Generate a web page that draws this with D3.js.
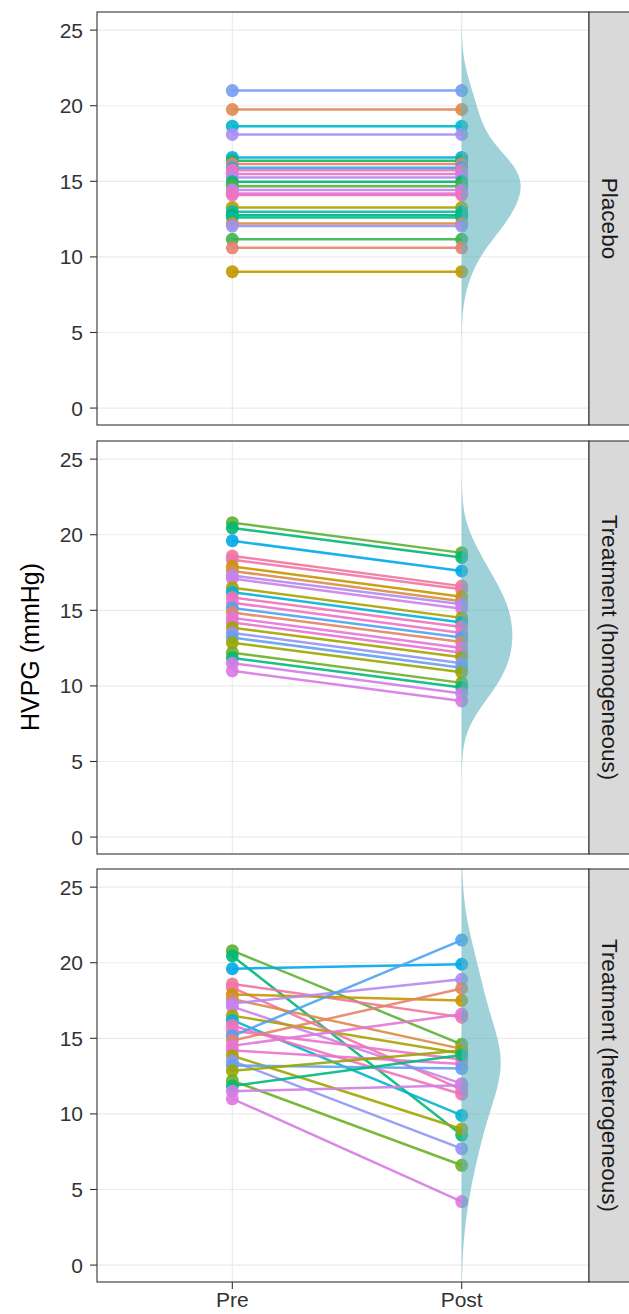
<!DOCTYPE html>
<html><head><meta charset="utf-8">
<script src="https://cdn.jsdelivr.net/npm/d3@7"></script>
<style>body{margin:0;background:#fff}</style>
</head><body>
<svg id="chart" width="629" height="1314"></svg>
<script>
// ---------- data ----------
const facets = ["Placebo", "Treatment (homogeneous)", "Treatment (heterogeneous)"];
const timepoints = ["Pre", "Post"];
const yTicks = [0, 5, 10, 15, 20, 25];
const nSubjects = 75;

const placeboSubject = [51, 5, 41, 55, 46, 26, 1, 48, 69, 64, 57, 28, 24, 58, 62, 67, 14, 38, 27, 33, 7, 54, 25, 2, 11];
const placeboPre  = [21.0, 19.75, 18.65, 18.1, 16.58, 16.36, 16.14, 15.9, 15.74, 15.48, 15.26, 14.97, 14.68, 14.42, 14.2, 14.09, 13.27, 12.98, 12.76, 12.61, 12.21, 12.04, 11.16, 10.6, 9.02];
const placeboPost = [21.0, 19.75, 18.65, 18.1, 16.58, 16.36, 16.14, 15.9, 15.74, 15.48, 15.26, 14.97, 14.68, 14.42, 14.2, 14.09, 13.27, 12.98, 12.76, 12.61, 12.21, 12.04, 11.16, 10.6, 9.02];

const treatSubject = [23, 29, 47, 72, 70, 10, 6, 56, 59, 15, 42, 68, 66, 49, 3, 63, 65, 16, 53, 50, 17, 22, 30, 60, 61];
const homoPre  = [20.8, 20.45, 19.6, 18.6, 18.35, 17.9, 17.6, 17.3, 17.1, 16.5, 16.2, 15.85, 15.5, 15.15, 14.85, 14.5, 14.2, 13.85, 13.5, 13.2, 12.85, 12.2, 11.85, 11.5, 11.0];
const homoPost = [18.8, 18.5, 17.6, 16.6, 16.4, 15.9, 15.6, 15.4, 15.1, 14.5, 14.2, 13.9, 13.5, 13.2, 12.9, 12.5, 12.2, 11.9, 11.5, 11.2, 10.9, 10.2, 9.9, 9.5, 9.0];
const heteroPre  = [20.8, 20.45, 19.6, 18.6, 18.35, 17.9, 17.6, 17.3, 17.1, 16.5, 16.2, 15.85, 15.5, 15.15, 14.85, 14.5, 14.2, 13.85, 13.5, 13.2, 12.85, 12.2, 11.85, 11.5, 11.0];
const heteroPost = [14.6, 8.6, 19.9, 16.4, 11.6, 17.5, 14.3, 18.9, 12.0, 14.0, 9.9, 11.3, 13.6, 21.5, 18.3, 16.6, 13.3, 9.0, 7.7, 13.0, 14.2, 6.6, 13.9, 11.9, 4.2];

// ---------- helpers ----------
// R-style hcl (polar CIELUV) -> sRGB hex
function hclR(h, c, l) {
  const Xn = 95.047, Yn = 100.0, Zn = 108.883;
  const un = 4 * Xn / (Xn + 15 * Yn + 3 * Zn), vn = 9 * Yn / (Xn + 15 * Yn + 3 * Zn);
  const hr = h * Math.PI / 180, u = c * Math.cos(hr), v = c * Math.sin(hr);
  const Y = l > 8 ? Yn * Math.pow((l + 16) / 116, 3) : Yn * l / 903.3;
  const up = u / (13 * l) + un, vp = v / (13 * l) + vn;
  const X = Y * 9 * up / (4 * vp), Z = Y * (12 - 3 * up - 20 * vp) / (4 * vp);
  const x = X / 100, y = Y / 100, z = Z / 100;
  let r = 3.240479 * x - 1.537150 * y - 0.498535 * z;
  let g = -0.969256 * x + 1.875992 * y + 0.041556 * z;
  let b = 0.055648 * x - 0.204043 * y + 1.057311 * z;
  const gam = t => { t = t <= 0.0031308 ? 12.92 * t : 1.055 * Math.pow(t, 1 / 2.4) - 0.055; return Math.max(0, Math.min(255, Math.round(t * 255))); };
  return d3.rgb(gam(r), gam(g), gam(b)).formatHex();
}
const subjectIds = d3.range(1, nSubjects + 1);
const color = d3.scaleOrdinal(subjectIds, subjectIds.map((d, i) => hclR(15 + 360 * i / nSubjects, 80, 65)));

function kde(values, adjust) {
  const s = values.slice().sort(d3.ascending);
  const n = s.length;
  const sd = d3.deviation(s);
  const iqr = d3.quantileSorted(s, 0.75) - d3.quantileSorted(s, 0.25);
  const bw = adjust * 0.9 * Math.min(sd, iqr / 1.34) * Math.pow(n, -0.2);
  const lo = s[0] - 3 * bw, hi = s[n - 1] + 3 * bw;
  const pts = d3.range(512).map(i => lo + (hi - lo) * i / 511);
  return pts.map(t => [t, d3.mean(s, v => Math.exp(-0.5 * ((t - v) / bw) ** 2)) / (bw * Math.sqrt(2 * Math.PI))]);
}

const panelsData = [
  { label: facets[0], subj: placeboSubject, pre: placeboPre, post: placeboPost },
  { label: facets[1], subj: treatSubject, pre: homoPre, post: homoPost },
  { label: facets[2], subj: treatSubject, pre: heteroPre, post: heteroPost }
];
panelsData.forEach(p => p.dens = kde(p.post, 1.3));
const maxDens = d3.max(panelsData, p => d3.max(p.dens, d => d[1]));

// ---------- layout ----------
const svg = d3.select("#chart");
const font = "'Liberation Sans', Arial, Helvetica, sans-serif";
const L = 97, R = 589, panelH = 413, tops = [12, 441, 869];
const stripW = 42;
const x = d3.scaleLinear().domain([0.41, 2.555]).range([L, R]);
const xPos = d3.scalePoint().domain(timepoints).range([x(1), x(2)]);
const violinMax = 0.257;

panelsData.forEach((p, k) => {
  const top = tops[k];
  const y = d3.scaleLinear().domain([-1.12, 26.2]).range([top + panelH, top]);
  const g = svg.append("g");
  const clipId = "clip" + k;
  svg.append("clipPath").attr("id", clipId).append("rect")
    .attr("x", L).attr("y", top).attr("width", R - L).attr("height", panelH);

  g.append("rect").attr("x", L).attr("y", top).attr("width", R - L).attr("height", panelH).attr("fill", "#fff");
  g.selectAll(".gy").data(yTicks).join("line")
    .attr("x1", L).attr("x2", R).attr("y1", d => y(d)).attr("y2", d => y(d))
    .attr("stroke", "#ebebeb").attr("stroke-width", 1.2);
  g.selectAll(".gx").data(timepoints).join("line")
    .attr("x1", d => xPos(d)).attr("x2", d => xPos(d)).attr("y1", top).attr("y2", top + panelH)
    .attr("stroke", "#ebebeb").attr("stroke-width", 1.2);

  const rows = p.pre.map((v, i) => ({ id: p.subj[i], pre: v, post: p.post[i] }));
  const pg = g.append("g").attr("clip-path", `url(#${clipId})`);
  pg.selectAll(".ln").data(rows).join("line")
    .attr("x1", xPos("Pre")).attr("x2", xPos("Post"))
    .attr("y1", d => y(d.pre)).attr("y2", d => y(d.post))
    .attr("stroke", d => color(d.id)).attr("stroke-width", 2.5).attr("stroke-opacity", 0.9);
  const pts = rows.flatMap(d => [{ id: d.id, t: "Pre", v: d.pre }, { id: d.id, t: "Post", v: d.post }]);
  pg.selectAll(".pt").data(pts).join("circle")
    .attr("cx", d => xPos(d.t)).attr("cy", d => y(d.v)).attr("r", 6.5)
    .attr("fill", d => color(d.id)).attr("fill-opacity", 0.9);

  const area = d3.area()
    .y(d => y(d[0]))
    .x0(x(2))
    .x1(d => x(2 + violinMax * d[1] / maxDens))
    .curve(d3.curveLinear);
  pg.append("path").datum(p.dens).attr("d", area)
    .attr("fill", "#5fb3c0").attr("fill-opacity", 0.6);

  g.append("rect").attr("x", L).attr("y", top).attr("width", R - L).attr("height", panelH)
    .attr("fill", "none").attr("stroke", "#333").attr("stroke-width", 1.1);

  const ya = g.append("g");
  ya.selectAll("line").data(yTicks).join("line")
    .attr("x1", L - 7).attr("x2", L).attr("y1", d => y(d)).attr("y2", d => y(d))
    .attr("stroke", "#333").attr("stroke-width", 1.1);
  ya.selectAll("text").data(yTicks).join("text")
    .attr("x", L - 14).attr("y", d => y(d)).attr("dy", "0.36em")
    .attr("text-anchor", "end").attr("font-family", font).attr("font-size", 21).attr("fill", "#333")
    .text(d => d);

  g.append("rect").attr("x", R).attr("y", top).attr("width", stripW).attr("height", panelH)
    .attr("fill", "#d9d9d9").attr("stroke", "#333").attr("stroke-width", 1.1);
  g.append("text")
    .attr("transform", `translate(${R + 21},${top + panelH / 2}) rotate(90)`)
    .attr("text-anchor", "middle").attr("dy", "0.35em")
    .attr("font-family", font).attr("font-size", 22.5).attr("fill", "#1a1a1a")
    .text(p.label);
});

const bottom = tops[2] + panelH;
svg.append("g").selectAll("line").data(timepoints).join("line")
  .attr("x1", d => xPos(d)).attr("x2", d => xPos(d)).attr("y1", bottom).attr("y2", bottom + 7)
  .attr("stroke", "#333").attr("stroke-width", 1.1);
svg.append("g").selectAll("text").data(timepoints).join("text")
  .attr("x", d => xPos(d)).attr("y", bottom + 25)
  .attr("text-anchor", "middle").attr("font-family", font).attr("font-size", 21).attr("fill", "#333")
  .text(d => d);

svg.append("text")
  .attr("transform", `translate(30,${(tops[0] + bottom) / 2}) rotate(-90)`)
  .attr("text-anchor", "middle").attr("dy", "0.35em")
  .attr("font-family", font).attr("font-size", 25).attr("fill", "#000")
  .text("HVPG (mmHg)");
</script>
</body></html>
